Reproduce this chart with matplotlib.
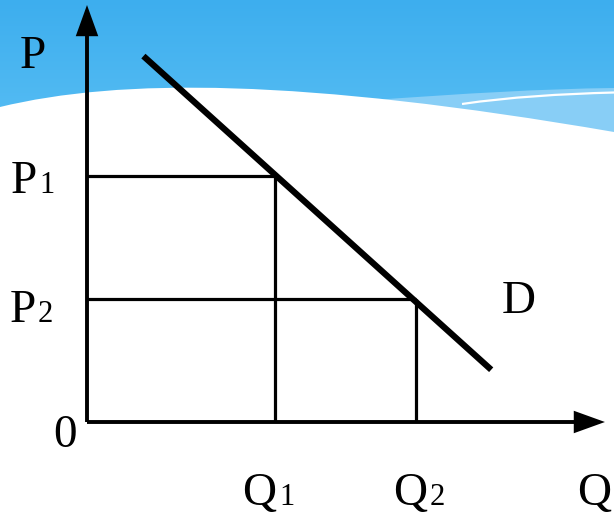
import numpy as np
import matplotlib
matplotlib.use("Agg")
import matplotlib.pyplot as plt
from matplotlib.path import Path
from matplotlib.patches import PathPatch
from matplotlib.colors import LinearSegmentedColormap

# ---- data ----
q_levels = [4, 7]          # Q1, Q2
p_levels = [4, 2]          # P1, P2
q_labels = ["Q", "Q"]
q_subs = ["1", "2"]
p_labels = ["P", "P"]
p_subs = ["1", "2"]
demand_q = [1.2, 8.6]
demand_p = [5.95, 0.85]
axis_q_max = 11.02
axis_p_max = 6.78

W, H = 614, 516
fig = plt.figure(figsize=(W / 100, H / 100), dpi=100)

# ---- decorative background ----
bg = fig.add_axes([0, 0, 1, 1], zorder=0)
bg.set_xlim(0, W)
bg.set_ylim(H, 0)
bg.axis("off")
cmap = LinearSegmentedColormap.from_list("sky", ["#3DAEEE", "#58BEF4"])
grad = np.linspace(0, 1, 256).reshape(-1, 1)
bg.imshow(grad, cmap=cmap, extent=[0, W, 140, 0], aspect="auto", zorder=0)

# light band (starts hidden under the white wave, emerges near x=420)
band = Path([(360, 101), (470, 93), (540, 89), (614, 88),
             (614, 140), (360, 140), (360, 101)],
            [Path.MOVETO, Path.CURVE4, Path.CURVE4, Path.CURVE4,
             Path.LINETO, Path.LINETO, Path.CLOSEPOLY])
bg.add_patch(PathPatch(band, facecolor="#88CEF6", edgecolor="none", zorder=1))

# white wave
wave = Path([(0, 107), (120, 78), (300, 78), (614, 132),
             (614, H), (0, H), (0, 107)],
            [Path.MOVETO, Path.CURVE4, Path.CURVE4, Path.CURVE4,
             Path.LINETO, Path.LINETO, Path.CLOSEPOLY])
bg.add_patch(PathPatch(wave, facecolor="white", edgecolor="none", zorder=2))

# thin white line
wl = Path([(462, 104), (510, 97), (560, 94), (614, 92.5)],
          [Path.MOVETO, Path.CURVE4, Path.CURVE4, Path.CURVE4])
bg.add_patch(PathPatch(wl, facecolor="none", edgecolor="white", lw=1.6, zorder=3))

# ---- main chart ----
x0_px, y0_px = 87, 422
sx, sy = 47.0, 61.5
ax = fig.add_axes([0, 0, 1, 1], zorder=1)
ax.set_facecolor("none")
ax.set_xlim(-x0_px / sx, (W - x0_px) / sx)
ax.set_ylim(-(H - y0_px) / sy, y0_px / sy)
ax.axis("off")

serif = "Liberation Serif"
fs_main = 34
fs_sub = 22

# axes arrows
arrow_kw = dict(arrowstyle="-|>,head_length=0.36,head_width=0.13",
                mutation_scale=47, lw=2.8, color="black",
                shrinkA=0, shrinkB=0, joinstyle="miter", capstyle="butt")
ax.annotate("", xy=(0, axis_p_max), xytext=(0, 0), arrowprops=arrow_kw)
ax.annotate("", xy=(axis_q_max, 0), xytext=(0, 0), arrowprops=arrow_kw)

# guide lines
for q, p in zip(q_levels, p_levels):
    ax.plot([0, q], [p, p], color="black", lw=2.3, solid_capstyle="butt")
    ax.plot([q, q], [0, p], color="black", lw=2.3, solid_capstyle="butt")

# demand line
ax.plot(demand_q, demand_p, color="black", lw=4.5, solid_capstyle="butt")

def lab(x, y, dx, dy, s, size, ha):
    ax.annotate(s, xy=(x, y), xytext=(dx, dy), textcoords="offset pixels",
                fontsize=size, family=serif, ha=ha, va="baseline", color="black")

# P labels
p_offsets = [(-50, -17), (-51, -23)]
for p, main, sub, (dx, dy) in zip(p_levels, p_labels, p_subs, p_offsets):
    lab(0, p, dx, dy, main, fs_main, "right")
    lab(0, p, dx + 2, dy, sub, fs_sub, "left")

# Q labels
q_offsets = [(1, -83), (11, -83)]
for q, main, sub, (dx, dy) in zip(q_levels, q_labels, q_subs, q_offsets):
    lab(q, 0, dx, dy, main, fs_main, "right")
    lab(q, 0, dx + 3, dy, sub, fs_sub, "left")

# axis names
lab(0, axis_p_max, -67, -63, "P", fs_main, "left")
lab(axis_q_max, 0, -28, -83, "Q", fs_main, "left")
lab(0, 0, -34, -25, "0", fs_main, "left")
lab(demand_q[1], demand_p[1], 10, 57, "D", fs_main, "left")

fig.savefig("out.png", dpi=100)
